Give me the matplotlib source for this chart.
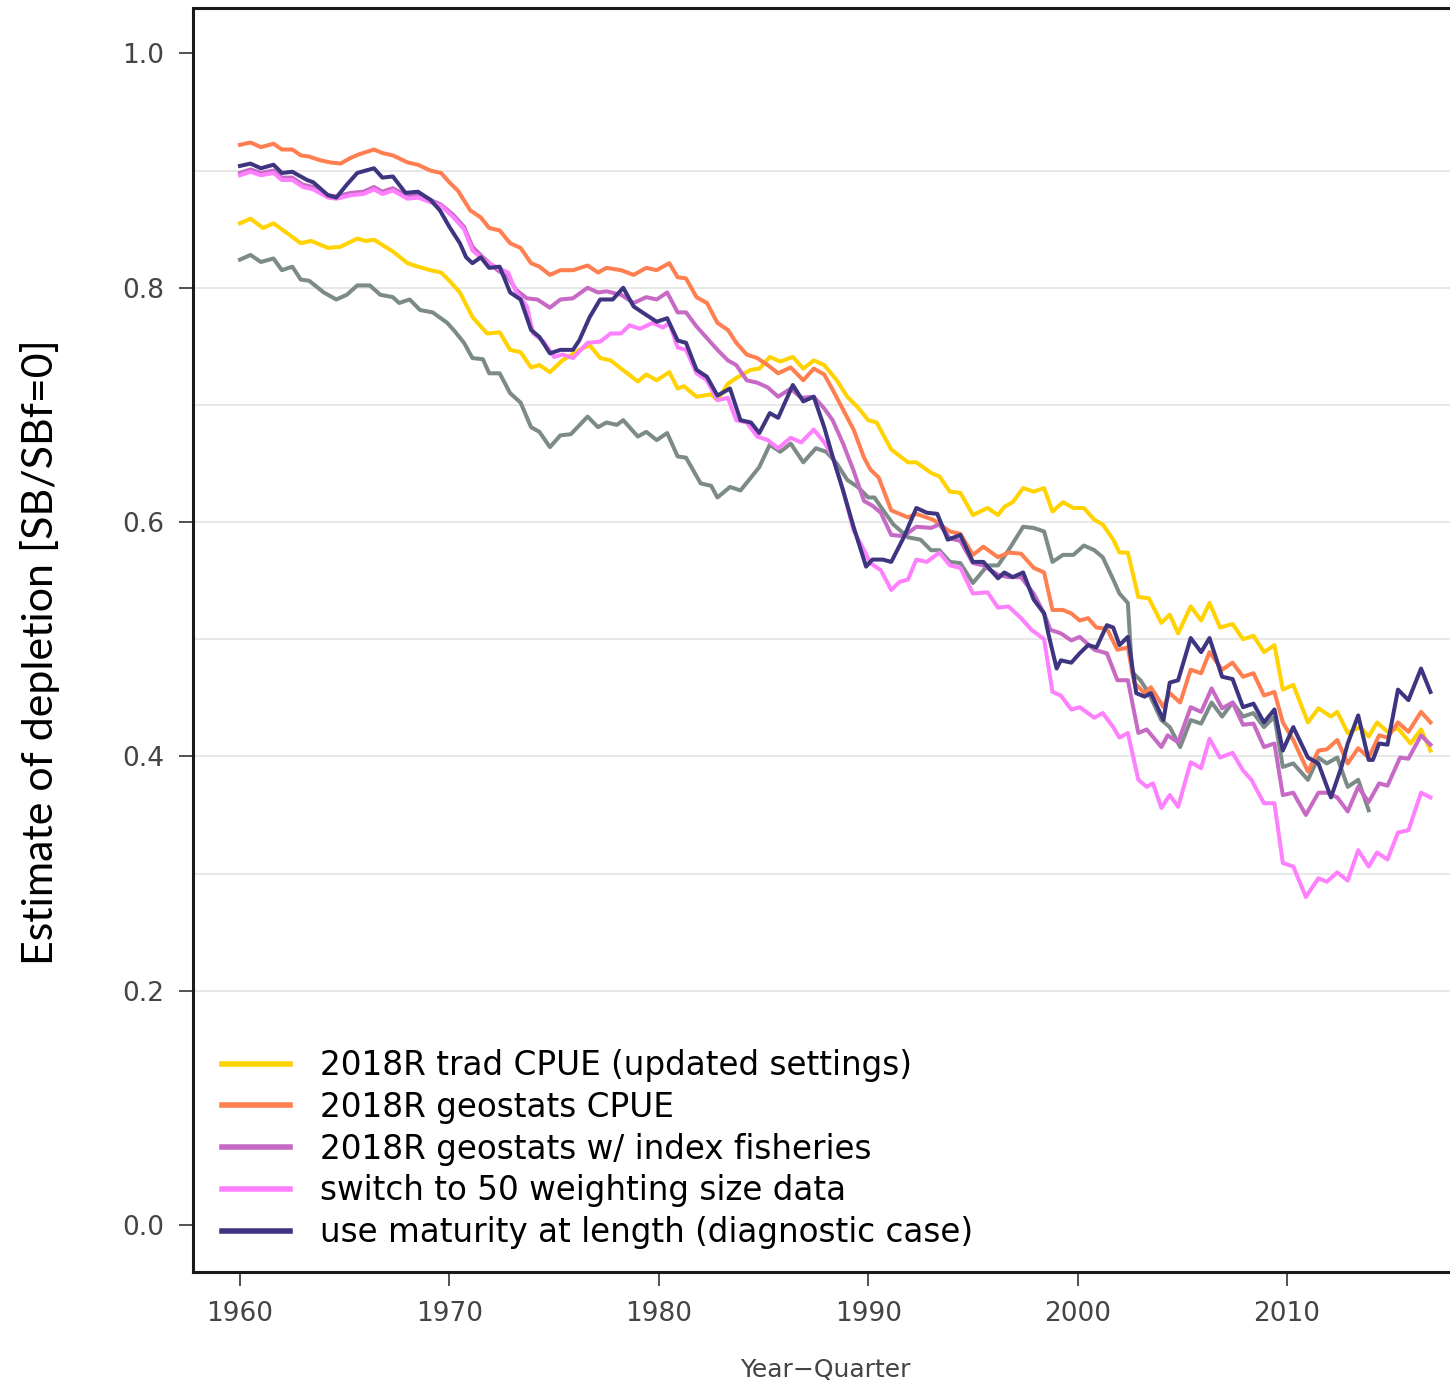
import matplotlib
matplotlib.use("Agg")
import matplotlib.pyplot as plt

# depletion estimates by year-quarter for each model run
yr_trad = [1960.0, 1960.5, 1961.1, 1961.6, 1962.3, 1962.9, 1963.4, 1964.2, 1964.8, 1965.6, 1966.0,
           1966.4, 1967.3, 1968.0, 1968.5, 1969.1, 1969.6, 1970.0, 1970.5, 1971.1, 1971.8, 1972.4,
           1972.9, 1973.4, 1973.9, 1974.3, 1974.8, 1975.4, 1976.2, 1976.7, 1977.2, 1977.7, 1978.2,
           1979.0, 1979.4, 1979.9, 1980.5, 1980.9, 1981.2, 1981.8, 1982.5, 1982.8, 1983.3, 1983.7,
           1984.4, 1984.8, 1985.3, 1985.8, 1986.4, 1986.9, 1987.4, 1987.9, 1988.5, 1989.0, 1989.5,
           1990.0, 1990.4, 1991.1, 1991.9, 1992.3, 1993.0, 1993.4, 1993.9, 1994.4, 1995.0, 1995.7,
           1996.2, 1996.5, 1996.9, 1997.4, 1997.9, 1998.4, 1998.8, 1999.3, 1999.8, 2000.3, 2000.8,
           2001.2, 2001.7, 2002.0, 2002.4, 2002.9, 2003.4, 2004.0, 2004.4, 2004.8, 2005.4, 2005.9,
           2006.3, 2006.8, 2007.4, 2007.9, 2008.4, 2008.9, 2009.4, 2009.8, 2010.3, 2011.0, 2011.5,
           2012.1, 2012.4, 2012.9, 2013.5, 2013.9, 2014.3, 2014.8, 2015.3, 2015.9, 2016.4, 2016.85]
dep_trad = [0.855, 0.859, 0.851, 0.855, 0.846, 0.838, 0.840, 0.834, 0.835, 0.842, 0.840,
            0.841, 0.831, 0.821, 0.818, 0.815, 0.813, 0.806, 0.796, 0.775, 0.761, 0.762,
            0.747, 0.745, 0.732, 0.734, 0.728, 0.738, 0.747, 0.751, 0.740, 0.738, 0.731,
            0.720, 0.726, 0.721, 0.728, 0.714, 0.716, 0.707, 0.709, 0.704, 0.718, 0.723,
            0.730, 0.731, 0.741, 0.737, 0.741, 0.731, 0.738, 0.734, 0.721, 0.707, 0.698,
            0.687, 0.685, 0.662, 0.651, 0.651, 0.642, 0.639, 0.626, 0.625, 0.606, 0.612,
            0.606, 0.613, 0.617, 0.629, 0.626, 0.629, 0.609, 0.617, 0.612, 0.612, 0.602,
            0.598, 0.585, 0.574, 0.574, 0.536, 0.535, 0.514, 0.521, 0.505, 0.528, 0.516,
            0.531, 0.510, 0.513, 0.500, 0.503, 0.489, 0.495, 0.457, 0.461, 0.429, 0.441,
            0.434, 0.438, 0.420, 0.425, 0.417, 0.429, 0.421, 0.424, 0.411, 0.423, 0.405]

yr_geo = [1960.0, 1960.5, 1961.0, 1961.6, 1962.0, 1962.5, 1962.9, 1963.3, 1963.8, 1964.3, 1964.8,
          1965.3, 1965.7, 1966.4, 1966.8, 1967.3, 1968.0, 1968.5, 1969.1, 1969.6, 1970.0, 1970.4,
          1971.0, 1971.5, 1971.9, 1972.4, 1972.9, 1973.4, 1973.9, 1974.3, 1974.8, 1975.3, 1975.9,
          1976.6, 1977.1, 1977.5, 1978.2, 1978.8, 1979.4, 1979.9, 1980.5, 1980.9, 1981.3, 1981.8,
          1982.3, 1982.8, 1983.3, 1983.7, 1984.2, 1984.7, 1985.2, 1985.7, 1986.3, 1986.9, 1987.4,
          1987.9, 1988.3, 1988.8, 1989.3, 1989.8, 1990.1, 1990.5, 1991.1, 1991.9, 1992.3, 1993.1,
          1993.9, 1994.4, 1995.0, 1995.5, 1996.2, 1996.7, 1997.3, 1997.9, 1998.4, 1998.8, 1999.3,
          1999.7, 2000.1, 2000.5, 2000.9, 2001.4, 2001.9, 2002.4, 2002.7, 2003.2, 2003.5, 2004.1,
          2004.4, 2004.9, 2005.4, 2005.9, 2006.3, 2006.9, 2007.4, 2007.9, 2008.4, 2008.9, 2009.4,
          2009.8, 2010.3, 2011.0, 2011.5, 2011.9, 2012.4, 2012.9, 2013.4, 2013.9, 2014.4, 2014.8,
          2015.3, 2015.8, 2016.4, 2016.85]
dep_geo = [0.922, 0.924, 0.920, 0.923, 0.918, 0.918, 0.913, 0.912, 0.909, 0.907, 0.906,
           0.911, 0.914, 0.918, 0.915, 0.913, 0.907, 0.905, 0.900, 0.898, 0.890, 0.883,
           0.866, 0.860, 0.851, 0.849, 0.838, 0.834, 0.821, 0.818, 0.811, 0.815, 0.815,
           0.819, 0.813, 0.817, 0.815, 0.811, 0.817, 0.815, 0.821, 0.809, 0.808, 0.792,
           0.787, 0.770, 0.764, 0.753, 0.743, 0.740, 0.734, 0.727, 0.732, 0.721, 0.731,
           0.726, 0.713, 0.696, 0.679, 0.655, 0.645, 0.638, 0.610, 0.604, 0.607, 0.602,
           0.592, 0.590, 0.572, 0.579, 0.570, 0.574, 0.573, 0.561, 0.557, 0.525, 0.525,
           0.522, 0.516, 0.518, 0.510, 0.509, 0.491, 0.493, 0.463, 0.454, 0.459, 0.442,
           0.454, 0.446, 0.474, 0.471, 0.489, 0.474, 0.480, 0.468, 0.471, 0.452, 0.455,
           0.429, 0.414, 0.387, 0.405, 0.406, 0.414, 0.394, 0.407, 0.399, 0.418, 0.416,
           0.429, 0.421, 0.438, 0.429]

yr_index = [1960.0, 1960.5, 1961.0, 1961.6, 1962.0, 1962.5, 1963.0, 1963.5, 1964.2, 1964.6, 1965.3,
            1965.9, 1966.4, 1966.8, 1967.3, 1968.0, 1968.5, 1969.1, 1969.6, 1970.2, 1970.7, 1971.1,
            1971.6, 1972.3, 1972.8, 1973.2, 1973.7, 1974.2, 1974.8, 1975.3, 1975.9, 1976.6, 1977.1,
            1977.5, 1978.2, 1978.8, 1979.4, 1979.9, 1980.4, 1980.9, 1981.3, 1981.8, 1982.3, 1982.8,
            1983.3, 1983.7, 1984.2, 1984.7, 1985.2, 1985.7, 1986.3, 1986.8, 1987.4, 1987.9, 1988.3,
            1988.8, 1989.3, 1989.8, 1990.2, 1990.6, 1991.1, 1991.7, 1992.3, 1993.0, 1993.4, 1993.9,
            1994.4, 1995.0, 1995.5, 1996.2, 1996.7, 1997.3, 1997.9, 1998.4, 1998.7, 1999.2, 1999.7,
            2000.1, 2000.8, 2001.4, 2001.9, 2002.4, 2002.9, 2003.3, 2004.0, 2004.3, 2004.8, 2005.4,
            2005.9, 2006.4, 2006.9, 2007.4, 2007.9, 2008.4, 2008.9, 2009.4, 2009.8, 2010.3, 2010.9,
            2011.5, 2011.9, 2012.4, 2012.9, 2013.4, 2013.9, 2014.4, 2014.8, 2015.4, 2015.8, 2016.4,
            2016.85]
dep_index = [0.898, 0.901, 0.898, 0.900, 0.894, 0.894, 0.888, 0.886, 0.879, 0.878, 0.881,
             0.882, 0.886, 0.882, 0.885, 0.878, 0.880, 0.875, 0.871, 0.862, 0.852, 0.835,
             0.826, 0.815, 0.809, 0.798, 0.791, 0.790, 0.783, 0.790, 0.791, 0.800, 0.796,
             0.797, 0.794, 0.787, 0.792, 0.790, 0.796, 0.779, 0.779, 0.767, 0.757, 0.747,
             0.738, 0.734, 0.721, 0.719, 0.715, 0.707, 0.714, 0.706, 0.707, 0.697, 0.687,
             0.667, 0.644, 0.618, 0.614, 0.608, 0.589, 0.588, 0.596, 0.595, 0.598, 0.586,
             0.584, 0.565, 0.563, 0.555, 0.553, 0.553, 0.539, 0.522, 0.508, 0.505, 0.499,
             0.502, 0.491, 0.488, 0.465, 0.465, 0.420, 0.423, 0.408, 0.418, 0.412, 0.442,
             0.438, 0.458, 0.441, 0.446, 0.427, 0.428, 0.408, 0.411, 0.367, 0.369, 0.350,
             0.369, 0.369, 0.365, 0.353, 0.374, 0.361, 0.377, 0.375, 0.399, 0.398, 0.418,
             0.410]

yr_w50 = [1960.0, 1960.5, 1961.0, 1961.6, 1962.0, 1962.5, 1963.0, 1963.5, 1964.2, 1964.6, 1965.3,
          1965.9, 1966.4, 1966.8, 1967.3, 1968.0, 1968.5, 1969.1, 1969.6, 1970.2, 1970.7, 1971.1,
          1971.6, 1972.3, 1972.8, 1973.2, 1973.7, 1974.0, 1974.5, 1975.0, 1975.4, 1975.9, 1976.6,
          1977.2, 1977.7, 1978.2, 1978.6, 1979.1, 1979.7, 1980.2, 1980.5, 1980.9, 1981.3, 1981.8,
          1982.3, 1982.8, 1983.3, 1983.7, 1984.2, 1984.7, 1985.2, 1985.7, 1986.3, 1986.8, 1987.4,
          1987.9, 1988.3, 1988.8, 1989.3, 1989.8, 1990.1, 1990.6, 1991.1, 1991.5, 1991.9, 1992.3,
          1992.8, 1993.4, 1993.9, 1994.4, 1995.0, 1995.7, 1996.2, 1996.7, 1997.3, 1997.8, 1998.4,
          1998.8, 1999.2, 1999.7, 2000.1, 2000.8, 2001.2, 2001.7, 2002.0, 2002.4, 2002.9, 2003.3,
          2003.6, 2004.0, 2004.4, 2004.8, 2005.4, 2005.9, 2006.3, 2006.8, 2007.4, 2007.9, 2008.3,
          2008.9, 2009.4, 2009.8, 2010.3, 2010.9, 2011.5, 2011.9, 2012.4, 2012.9, 2013.4, 2013.9,
          2014.3, 2014.8, 2015.3, 2015.8, 2016.4, 2016.85]
dep_w50 = [0.896, 0.899, 0.896, 0.898, 0.892, 0.892, 0.886, 0.884, 0.877, 0.876, 0.879,
           0.880, 0.884, 0.880, 0.883, 0.876, 0.877, 0.873, 0.870, 0.860, 0.850, 0.832,
           0.824, 0.817, 0.813, 0.796, 0.784, 0.761, 0.754, 0.741, 0.743, 0.740, 0.753,
           0.754, 0.761, 0.761, 0.768, 0.765, 0.770, 0.766, 0.770, 0.749, 0.747, 0.727,
           0.721, 0.704, 0.706, 0.687, 0.685, 0.673, 0.670, 0.663, 0.672, 0.668, 0.679,
           0.668, 0.656, 0.627, 0.593, 0.576, 0.565, 0.559, 0.542, 0.549, 0.551, 0.568,
           0.566, 0.574, 0.563, 0.561, 0.539, 0.540, 0.527, 0.528, 0.518, 0.508, 0.500,
           0.455, 0.452, 0.440, 0.442, 0.433, 0.437, 0.425, 0.416, 0.420, 0.380, 0.374,
           0.377, 0.356, 0.367, 0.357, 0.395, 0.390, 0.415, 0.399, 0.403, 0.388, 0.380,
           0.360, 0.360, 0.309, 0.306, 0.280, 0.296, 0.293, 0.301, 0.294, 0.320, 0.306,
           0.318, 0.312, 0.335, 0.337, 0.369, 0.365]

yr_mat = [1960.0, 1960.5, 1961.0, 1961.6, 1962.0, 1962.5, 1963.2, 1963.5, 1964.2, 1964.6, 1965.1,
          1965.6, 1966.4, 1966.8, 1967.3, 1967.9, 1968.5, 1969.1, 1969.55, 1970.0, 1970.5, 1970.8,
          1971.1, 1971.5, 1971.9, 1972.4, 1972.9, 1973.4, 1973.9, 1974.3, 1974.8, 1975.3, 1975.9,
          1976.2, 1976.7, 1977.2, 1977.8, 1978.3, 1978.8, 1979.3, 1979.9, 1980.4, 1980.9, 1981.3,
          1981.8, 1982.3, 1982.8, 1983.4, 1983.9, 1984.4, 1984.8, 1985.3, 1985.7, 1986.4, 1986.9,
          1987.4, 1987.9, 1988.3, 1988.8, 1989.3, 1989.6, 1989.9, 1990.2, 1990.7, 1991.1, 1991.7,
          1992.3, 1992.8, 1993.3, 1993.8, 1994.4, 1995.0, 1995.5, 1996.2, 1996.5, 1996.9, 1997.4,
          1997.9, 1998.4, 1998.6, 1999.0, 1999.2, 1999.7, 2000.1, 2000.5, 2000.9, 2001.4, 2001.7,
          2002.0, 2002.4, 2002.8, 2003.2, 2003.5, 2004.1, 2004.4, 2004.8, 2005.4, 2005.9, 2006.3,
          2006.9, 2007.4, 2007.9, 2008.4, 2008.9, 2009.4, 2009.8, 2010.3, 2011.0, 2011.5, 2012.1,
          2012.6, 2012.9, 2013.4, 2013.9, 2014.1, 2014.4, 2014.8, 2015.3, 2015.8, 2016.4, 2016.85]
dep_mat = [0.904, 0.906, 0.902, 0.905, 0.898, 0.899, 0.892, 0.890, 0.879, 0.877, 0.888,
           0.898, 0.902, 0.894, 0.895, 0.881, 0.882, 0.875, 0.866, 0.852, 0.838, 0.826,
           0.821, 0.826, 0.817, 0.818, 0.796, 0.790, 0.764, 0.758, 0.744, 0.747, 0.747,
           0.755, 0.775, 0.790, 0.790, 0.800, 0.784, 0.778, 0.771, 0.774, 0.755, 0.753,
           0.730, 0.724, 0.708, 0.714, 0.687, 0.685, 0.676, 0.693, 0.689, 0.717, 0.703,
           0.707, 0.681, 0.656, 0.627, 0.596, 0.579, 0.562, 0.568, 0.568, 0.566, 0.587,
           0.612, 0.608, 0.607, 0.585, 0.589, 0.566, 0.566, 0.552, 0.557, 0.553, 0.557,
           0.534, 0.522, 0.505, 0.475, 0.482, 0.480, 0.488, 0.495, 0.493, 0.512, 0.510,
           0.495, 0.502, 0.454, 0.451, 0.454, 0.431, 0.463, 0.465, 0.501, 0.489, 0.501,
           0.468, 0.466, 0.442, 0.445, 0.429, 0.440, 0.405, 0.425, 0.399, 0.394, 0.365,
           0.391, 0.411, 0.435, 0.397, 0.397, 0.411, 0.410, 0.457, 0.448, 0.475, 0.455]

# reference run, not in the legend
yr_ref = [1960.0, 1960.5, 1961.0, 1961.6, 1962.0, 1962.5, 1962.9, 1963.3, 1964.0, 1964.6, 1965.1,
          1965.6, 1966.2, 1966.7, 1967.3, 1967.6, 1968.1, 1968.6, 1969.2, 1969.9, 1970.2, 1970.7,
          1971.1, 1971.6, 1971.9, 1972.4, 1972.9, 1973.4, 1973.9, 1974.3, 1974.8, 1975.3, 1975.8,
          1976.6, 1977.1, 1977.5, 1978.0, 1978.3, 1979.0, 1979.4, 1979.9, 1980.4, 1980.9, 1981.3,
          1982.0, 1982.5, 1982.8, 1983.4, 1983.9, 1984.4, 1984.8, 1985.3, 1985.8, 1986.3, 1986.9,
          1987.5, 1988.0, 1988.5, 1989.0, 1989.5, 1990.0, 1990.3, 1990.6, 1991.2, 1991.9, 1992.5,
          1993.0, 1993.4, 1993.9, 1994.4, 1995.0, 1995.7, 1996.2, 1996.7, 1997.4, 1997.9, 1998.4,
          1998.8, 1999.3, 1999.8, 2000.3, 2000.8, 2001.2, 2001.7, 2002.0, 2002.4, 2002.6, 2003.0,
          2003.4, 2004.0, 2004.4, 2004.9, 2005.4, 2005.9, 2006.4, 2006.9, 2007.4, 2007.9, 2008.4,
          2008.9, 2009.4, 2009.8, 2010.3, 2011.0, 2011.5, 2011.9, 2012.4, 2012.9, 2013.4, 2013.9]
dep_ref = [0.824, 0.828, 0.822, 0.825, 0.815, 0.818, 0.807, 0.806, 0.796, 0.790, 0.794,
           0.802, 0.802, 0.794, 0.792, 0.787, 0.790, 0.781, 0.779, 0.770, 0.764, 0.753,
           0.740, 0.739, 0.727, 0.727, 0.710, 0.702, 0.681, 0.677, 0.664, 0.674, 0.675,
           0.690, 0.681, 0.685, 0.683, 0.687, 0.673, 0.677, 0.670, 0.676, 0.656, 0.655,
           0.633, 0.631, 0.621, 0.630, 0.627, 0.638, 0.647, 0.666, 0.660, 0.667, 0.651,
           0.663, 0.660, 0.650, 0.636, 0.630, 0.621, 0.621, 0.613, 0.598, 0.587, 0.585,
           0.576, 0.576, 0.566, 0.565, 0.548, 0.563, 0.563, 0.576, 0.596, 0.595, 0.592,
           0.566, 0.572, 0.572, 0.580, 0.576, 0.570, 0.551, 0.539, 0.531, 0.472, 0.465,
           0.454, 0.431, 0.425, 0.408, 0.431, 0.428, 0.446, 0.434, 0.446, 0.434, 0.437,
           0.425, 0.434, 0.391, 0.394, 0.380, 0.399, 0.394, 0.399, 0.374, 0.380, 0.354]

labels = ["2018R trad CPUE (updated settings)",
          "2018R geostats CPUE",
          "2018R geostats w/ index fisheries",
          "switch to 50 weighting size data",
          "use maturity at length (diagnostic case)"]
colors = ["#FFD200", "#FF7F50", "#C66AC6", "#FF80FF", "#3D3580"]

year_ticks = [1960, 1970, 1980, 1990, 2000, 2010]
dep_ticks = [0.0, 0.2, 0.4, 0.6, 0.8, 1.0]
grid_levels = [0.2, 0.3, 0.4, 0.5, 0.6, 0.7, 0.8, 0.9]

W, H = 1450, 1386
fig = plt.figure(figsize=(W / 100, H / 100), dpi=100)
ax = fig.add_axes([193 / W, 1 - 1272 / H, 1264 / W, 1264 / H])

for g in grid_levels:
    ax.axhline(g, color="#e6e6e6", lw=1.3, zorder=0)

lw = 2.9
ax.plot(yr_ref, dep_ref, color="#7D8B88", lw=lw, label="_nolegend_")
series = [(yr_trad, dep_trad), (yr_geo, dep_geo), (yr_index, dep_index),
          (yr_w50, dep_w50), (yr_mat, dep_mat)]
for (x, y), lab, c in zip(series, labels, colors):
    ax.plot(x, y, color=c, lw=lw, label=lab, solid_joinstyle="round")

ax.set_xlim(1960 - 47 / 20.94, 1960 - 47 / 20.94 + 1264 / 20.94)
ax.set_ylim(-0.0401, 1.0388)
ax.set_xticks(year_ticks)
ax.set_yticks(dep_ticks)
ax.set_yticklabels([f"{v:.1f}" for v in dep_ticks])

for side in ["left", "top", "bottom"]:
    ax.spines[side].set_linewidth(2.2)
    ax.spines[side].set_color("#1a1a1a")
ax.spines["right"].set_visible(False)
ax.tick_params(length=10, width=1.2, pad=11, labelsize=19, labelcolor="#444444", color="#333333")

fig.text(825 / W, 1 - 1370 / H, "Year\u2212Quarter", ha="center", va="center",
         fontsize=18, color="#444444")
fig.text(40 / W, 1 - 652 / H, "Estimate of depletion [SB/SBf=0]", rotation=90,
         ha="center", va="center", fontsize=31, family="Lato", color="black")

leg = ax.legend(loc="upper left", bbox_to_anchor=(222 / W, 1 - 1049 / H),
                bbox_transform=fig.transFigure, frameon=False, fontsize=23.5,
                handlelength=2.08, handletextpad=0.92, labelspacing=0.27,
                borderpad=0, borderaxespad=0)
for line in leg.get_lines():
    line.set_linewidth(4)

fig.savefig("out.png", dpi=100)
